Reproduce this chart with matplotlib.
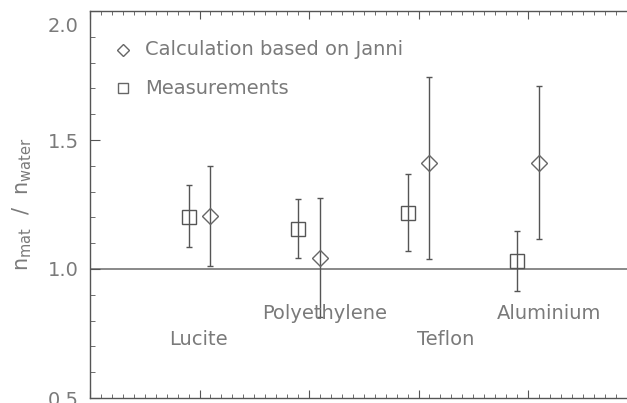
"""
Ratio of stopping powers, material vs water
"""

import matplotlib.pyplot as plt
import matplotlib.transforms as mtransforms
import numpy as np
from matplotlib.ticker import MultipleLocator

materials = ["Lucite", "Polyethylene", "Teflon", "Aluminium"]
pos = np.array([1, 2, 3, 4])

# measurements (squares)
meas = np.array([1.20, 1.155, 1.217, 1.031])
meas_lo = np.array([1.085, 1.043, 1.070, 0.915])
meas_hi = np.array([1.326, 1.272, 1.368, 1.147])

# calculation based on Janni (diamonds)
calc = np.array([1.205, 1.043, 1.411, 1.411])
calc_lo = np.array([1.012, 0.814, 1.039, 1.116])
calc_hi = np.array([1.400, 1.275, 1.744, 1.709])

# label positions
label_y = [0.725, 0.826, 0.725, 0.826]
label_x = [0.99, 2.14, 3.25, 4.19]

txt = "#7a7a7a"
fig = plt.figure(figsize=(6.27, 4.03), dpi=100)
ax = fig.add_axes([90/627, 5/403, 547.5/627, 387/403])

#reference line
ax.axhline(1.0, color="#808080", lw=1.3, zorder=1)

ax.errorbar(pos - 0.1, meas, yerr=[meas - meas_lo, meas_hi - meas],
            fmt="s", ms=9.5, mfc="none", mec="#555555", mew=1,
            ecolor="#555555", elinewidth=1, capsize=2.5, capthick=1)
ax.errorbar(pos + 0.1, calc, yerr=[calc - calc_lo, calc_hi - calc],
            fmt="D", ms=8, mfc="none", mec="#666666", mew=1,
            ecolor="#555555", elinewidth=1, capsize=2.5, capthick=1)

for x, y, name in zip(label_x, label_y, materials):
    ax.text(x, y, name, ha="center", va="center", fontsize=14, color=txt)

#legend drawn by hand like the original
ax.plot([0.3], [1.849], "D", ms=6.5, mfc="none", mec="#666666", mew=1)
ax.plot([0.3], [1.70], "s", ms=7, mfc="none", mec="#666666", mew=1)
ax.text(0.5, 1.849, "Calculation based on Janni", va="center", fontsize=14, color=txt)
ax.text(0.5, 1.70, "Measurements", va="center", fontsize=14, color=txt)

ax.set_xlim(0, 5)
ax.set_ylim(0.5, 2.0)
ax.xaxis.set_major_locator(MultipleLocator(1))
ax.xaxis.set_minor_locator(MultipleLocator(0.1))
ax.yaxis.set_minor_locator(MultipleLocator(0.1))
ax.set_yticks([0.5, 1.0, 1.5, 2.0])
ax.set_yticklabels(["0.5", "1.0", "1.5", "2.0"])
ax.tick_params(which="both", direction="in", top=True, right=True, color="#555555")
ax.tick_params(which="major", length=7, labelsize=14, labelcolor=txt, pad=8)
ax.tick_params(which="minor", length=3.5)
ax.tick_params(axis="x", which="both", labelbottom=False)
ax.tick_params(axis="x", which="major", length=6)
ax.tick_params(axis="x", which="minor", length=3)
for s in ax.spines.values():
    s.set_color("#555555")
    s.set_linewidth(1)

#top label sits a bit lower, as in the original
lab = ax.get_yticklabels()[-1]
lab.set_transform(lab.get_transform() + mtransforms.ScaledTranslation(0, -10/72, fig.dpi_scale_trans))

ax.set_ylabel(r"n$_{\rm mat}$  /  n$_{\rm water}$", fontsize=15, color=txt, labelpad=10)

fig.savefig("out.png", dpi=100)
